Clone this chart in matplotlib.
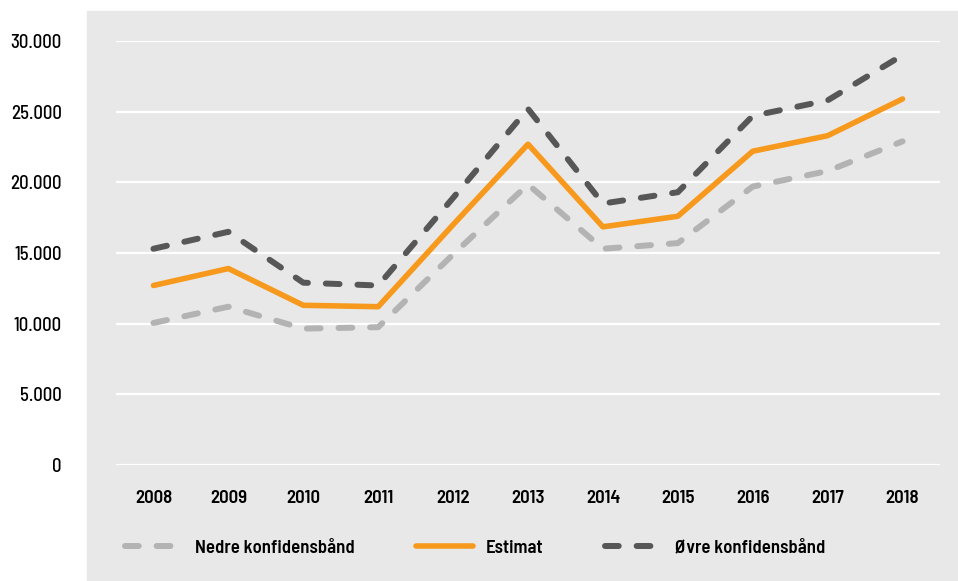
import matplotlib
matplotlib.use("Agg")
import matplotlib.pyplot as plt
from matplotlib.patches import Rectangle
from matplotlib.ticker import FuncFormatter

years = ["2008", "2009", "2010", "2011", "2012", "2013", "2014", "2015", "2016", "2017", "2018"]
nedre = [10050, 11200, 9650, 9750, 14900, 19850, 15300, 15700, 19700, 20800, 22900]
estimat = [12700, 13900, 11300, 11200, 17000, 22700, 16850, 17600, 22200, 23300, 25900]
ovre = [15300, 16500, 12900, 12700, 18900, 25200, 18500, 19300, 24700, 25800, 29000]

FONT = ["Barlow Semi Condensed", "DejaVu Sans"]
plt.rcParams["font.family"] = FONT

W, H = 958, 581
fig = plt.figure(figsize=(W / 100, H / 100), dpi=100)
fig.patches.append(Rectangle((87 / W, 0), 1 - 87 / W, (H - 11) / H,
                             transform=fig.transFigure, color="#e8e8e8", zorder=-10))

# plot area in pixels: x 116..940, y 41..465
ax = fig.add_axes([116 / W, (H - 465) / H, (940 - 116) / W, (465 - 41) / H])
ax.set_facecolor("none")

x = list(range(len(years)))
lw = 4.3
dash = (2.3, 3.0)
ax.plot(x, nedre, color="#b3b3b3", lw=lw, dashes=dash,
        dash_capstyle="round", label="Nedre konfidensbånd", zorder=3)
ax.plot(x, estimat, color="#f7991c", lw=4.0, solid_capstyle="round",
        label="Estimat", zorder=4)
ax.plot(x, ovre, color="#575757", lw=lw, dashes=dash,
        dash_capstyle="round", label="Øvre konfidensbånd", zorder=3)

ax.set_xlim(-0.5, len(years) - 0.5)
ax.set_ylim(0, 30000)
ax.set_yticks(range(0, 30001, 5000))
ax.yaxis.set_major_formatter(FuncFormatter(lambda v, p: f"{int(v):,}".replace(",", ".")))
ax.set_xticks(x)
ax.set_xticklabels(years, fontweight=600)
for t in ax.get_yticklabels():
    t.set_fontweight(500)
ax.grid(axis="y", color="white", lw=1.6, zorder=1)
ax.set_axisbelow(True)
for s in ax.spines.values():
    s.set_visible(False)
ax.tick_params(axis="y", length=0, pad=39, labelsize=13.5, labelcolor="black")
ax.tick_params(axis="x", length=0, pad=18, labelsize=13.5, labelcolor="black")

fig.legend(loc="center", bbox_to_anchor=(0.496, (H - 548) / H), ncol=3, frameon=False,
           handlelength=3.0, handletextpad=0.7, columnspacing=3.3,
           prop={"family": FONT, "weight": 600, "size": 13.5})

fig.savefig("out.png", dpi=100)
